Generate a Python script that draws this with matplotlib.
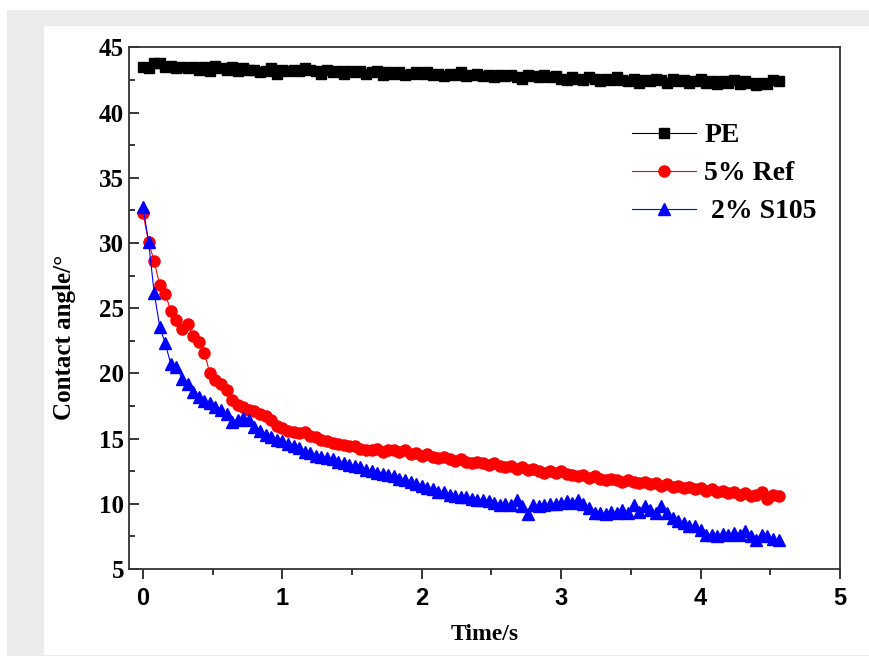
import numpy as np
import matplotlib
matplotlib.use('Agg')
import matplotlib.pyplot as plt
from matplotlib.patches import Rectangle

# sampling interval of the contact angle measurement (s)
dt = 0.04

pe = [43.5, 43.4, 43.8, 43.8, 43.5, 43.6, 43.4, 43.5, 43.4, 43.5,
      43.3, 43.5, 43.2, 43.6, 43.4, 43.3, 43.5, 43.2, 43.4, 43.3,
      43.3, 43.1, 43.2, 43.4, 43.0, 43.3, 43.2, 43.3, 43.2, 43.4,
      43.3, 43.2, 43.0, 43.3, 43.1, 43.2, 43.0, 43.2, 43.1, 43.2,
      43.0, 43.1, 43.2, 42.9, 43.1, 43.0, 43.1, 42.9, 43.0, 43.1,
      43.0, 43.1, 42.9, 43.0, 42.8, 43.0, 42.9, 43.1, 42.8, 42.9,
      43.0, 42.8, 42.9, 42.7, 42.9, 42.8, 42.9, 42.7, 42.6, 42.9,
      42.8, 42.7, 42.9, 42.7, 42.8, 42.6, 42.5, 42.7, 42.6, 42.5,
      42.7, 42.6, 42.4, 42.6, 42.5, 42.7, 42.5, 42.4, 42.6, 42.3,
      42.5, 42.4, 42.6, 42.5, 42.3, 42.6, 42.4, 42.5, 42.3, 42.4,
      42.6, 42.3, 42.4, 42.2, 42.4, 42.3, 42.5, 42.2, 42.4, 42.3,
      42.1, 42.3, 42.2, 42.5, 42.4]

ref5 = [32.3, 30.1, 28.6, 26.8, 26.1, 24.8, 24.1, 23.4, 23.8, 22.9,
        22.4, 21.6, 20.0, 19.5, 19.2, 18.7, 18.0, 17.6, 17.4, 17.2,
        17.1, 16.9, 16.7, 16.4, 16.0, 15.8, 15.6, 15.5, 15.4, 15.5,
        15.2, 15.1, 14.9, 14.8, 14.7, 14.6, 14.5, 14.4, 14.4, 14.2,
        14.1, 14.1, 14.2, 14.0, 14.1, 14.1, 14.0, 14.1, 13.8, 13.9,
        13.7, 13.8, 13.6, 13.5, 13.6, 13.4, 13.3, 13.4, 13.2, 13.1,
        13.2, 13.1, 13.0, 13.1, 12.9, 12.8, 12.9, 12.7, 12.8, 12.6,
        12.7, 12.5, 12.4, 12.5, 12.4, 12.5, 12.3, 12.2, 12.1, 12.2,
        12.0, 12.1, 11.9, 11.8, 11.9, 11.8, 11.7, 11.8, 11.7, 11.6,
        11.7, 11.5, 11.6, 11.4, 11.5, 11.3, 11.4, 11.2, 11.3, 11.1,
        11.2, 11.0, 11.1, 10.9, 11.0, 10.8, 10.9, 10.7, 10.8, 10.6,
        10.7, 10.9, 10.4, 10.7, 10.6]

s105 = [32.8, 30.1, 26.2, 23.6, 22.3, 20.7, 20.5, 19.6, 19.2, 18.6,
        18.2, 17.9, 17.7, 17.4, 17.2, 16.9, 16.3, 16.4, 16.6, 16.4,
        15.9, 15.6, 15.3, 15.1, 14.9, 14.8, 14.6, 14.4, 14.3, 14.0,
        13.9, 13.7, 13.6, 13.5, 13.4, 13.2, 13.1, 13.0, 12.9, 12.8,
        12.6, 12.5, 12.4, 12.3, 12.2, 12.1, 11.9, 11.8, 11.7, 11.5,
        11.4, 11.2, 11.1, 10.9, 10.9, 10.7, 10.6, 10.5, 10.5, 10.4,
        10.3, 10.3, 10.2, 10.1, 9.9, 10.0, 9.9, 10.3, 9.8, 9.2,
        9.9, 9.8, 9.9, 10.0, 10.0, 10.1, 10.2, 10.1, 10.3, 10.0,
        9.7, 9.3, 9.3, 9.2, 9.4, 9.3, 9.5, 9.3, 9.9, 9.4,
        9.8, 9.5, 9.3, 9.8, 9.3, 8.9, 8.7, 8.5, 8.3, 8.3,
        8.0, 7.6, 7.6, 7.5, 7.7, 7.6, 7.8, 7.6, 7.9, 7.5,
        7.2, 7.6, 7.5, 7.3, 7.2]

time = np.arange(len(pe)) * dt

serif_bold = {'family': ['Liberation Serif', 'DejaVu Serif'], 'weight': 'bold'}

fig = plt.figure(figsize=(8.69, 6.56), dpi=100)
# grey frame with white panel behind the plot
fig.add_artist(Rectangle((0.008, 0.0), 0.992, 0.985, transform=fig.transFigure,
                         facecolor='#ebebeb', edgecolor='none', zorder=-10))
fig.add_artist(Rectangle((0.0506, 0.0015), 0.95, 0.9589, transform=fig.transFigure,
                         facecolor='white', edgecolor='none', zorder=-9))

ax = fig.add_axes([0.1485, 0.1326, 0.818, 0.795])
ax.patch.set_alpha(0)

ax.plot(time, pe, '-s', color='black', lw=0.8, ms=6.5, label='PE')
ax.plot(time, ref5, '-o', color='red', lw=0.8, ms=8, label='5% Ref')
ax.plot(time, s105, '-^', color='blue', lw=0.8, ms=8.5, label=' 2% S105')

ax.set_xlim(-0.1, 5)
ax.set_ylim(5, 45)
ax.set_xticks([0, 1, 2, 3, 4, 5])
ax.set_xticks(np.arange(0.5, 5, 1), minor=True)
ax.set_yticks([5, 10, 15, 20, 25, 30, 35, 40, 45])
ax.set_yticks(np.arange(7.5, 45, 5), minor=True)

ax.tick_params(axis='y', which='both', direction='in', right=False)
ax.tick_params(axis='y', which='major', length=7, width=1.1)
ax.tick_params(axis='y', which='minor', length=4, width=1.1)
ax.tick_params(axis='x', which='both', direction='out', top=False)
ax.tick_params(axis='x', which='major', length=7, width=1.1, pad=6)
ax.tick_params(axis='x', which='minor', length=4, width=1.1)

for lab in ax.get_yticklabels():
    lab.set_fontfamily(['Liberation Serif', 'DejaVu Serif'])
    lab.set_fontweight('bold')
    lab.set_fontsize(18)
for lab in ax.get_xticklabels():
    lab.set_fontfamily(['Liberation Sans Narrow', 'Liberation Sans', 'DejaVu Sans'])
    lab.set_fontweight('bold')
    lab.set_fontsize(17)

for sp in ax.spines.values():
    sp.set_linewidth(1.3)
    sp.set_color('#333333')

ax.set_xlabel('Time/s', fontdict=serif_bold, fontsize=17, labelpad=10)
ax.set_ylabel('Contact angle/°', fontdict=serif_bold, fontsize=18)
ax.yaxis.set_label_coords(-0.075, 0.445)

leg = ax.legend(loc='upper left', bbox_to_anchor=(632 / 869, 1 - 123 / 656),
                bbox_transform=fig.transFigure, frameon=False, numpoints=1,
                handlelength=2.3, handletextpad=0.3, labelspacing=0.45,
                borderpad=0, borderaxespad=0,
                prop={'family': ['Liberation Serif', 'DejaVu Serif'],
                      'weight': 'bold', 'size': 20})

fig.savefig('out.png', dpi=100)
